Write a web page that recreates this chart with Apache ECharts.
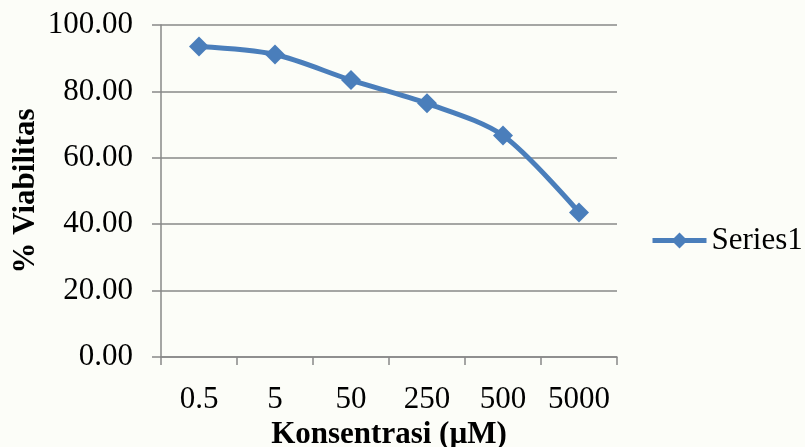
<!DOCTYPE html>
<html>
<head>
<meta charset="utf-8">
<script src="https://cdn.jsdelivr.net/npm/echarts@6/dist/echarts.min.js"></script>
<style>html,body{margin:0;padding:0;background:#fcfdf8;}#c{width:805px;height:447px;}</style>
</head>
<body>
<div id="c"></div>
<script>
const categories = ['0.5', '5', '50', '250', '500', '5000'];
const series1 = [93.5, 91.1, 83.4, 76.4, 66.7, 43.5];
const yTicks = [0, 20, 40, 60, 80, 100];

const chart = echarts.init(document.getElementById('c'));
const font = '"Liberation Serif", "Times New Roman", serif';
const blue = '#4a7ebb';
chart.setOption({
  backgroundColor: '#fcfdf8',
  animation: false,
  textStyle: { fontFamily: font },
  grid: { left: 161, right: 188, top: 25, bottom: 90, containLabel: false, outerBoundsMode: 'none' },
  legend: {
    data: ['Series1'],
    left: 645, top: 220,
    itemWidth: 54, itemHeight: 20, itemGap: 4,
    lineStyle: { width: 5, color: blue },
    itemStyle: { color: blue },
    textStyle: { fontFamily: font, fontSize: 31, color: '#000' }
  },
  xAxis: {
    type: 'category',
    data: categories,
    boundaryGap: true,
    name: 'Konsentrasi (µM)',
    nameLocation: 'middle',
    nameGap: 60,
    nameTextStyle: { fontFamily: font, fontSize: 31, fontWeight: 'bold', color: '#000' },
    axisLine: { lineStyle: { color: '#888', width: 1.5 } },
    axisTick: { show: true, interval: 0, alignWithLabel: false, length: 8, lineStyle: { color: '#888', width: 1.5 } },
    axisLabel: { interval: 0, hideOverlap: false, fontFamily: font, fontSize: 31, color: '#000', margin: 27 }
  },
  yAxis: {
    type: 'value',
    min: yTicks[0], max: yTicks[yTicks.length - 1], interval: 20,
    name: '% Viabilitas',
    nameLocation: 'middle',
    nameGap: 120,
    nameMoveOverlap: false,
    nameRotate: 90,
    nameTextStyle: { fontFamily: font, fontSize: 31, fontWeight: 'bold', color: '#000' },
    axisLine: { show: true, lineStyle: { color: '#888', width: 1.5 } },
    axisTick: { show: true, length: 9, lineStyle: { color: '#888', width: 1.5 } },
    splitLine: { lineStyle: { color: '#888', width: 1.5 } },
    axisLabel: { fontFamily: font, fontSize: 31, color: '#000', margin: 28,
      formatter: v => v.toFixed(2) }
  },
  series: [{
    name: 'Series1',
    type: 'line',
    data: series1,
    smooth: 0.3,
    symbol: 'diamond',
    symbolSize: 20,
    itemStyle: { color: blue },
    lineStyle: { color: blue, width: 5 }
  }]
});
</script>
</body>
</html>
